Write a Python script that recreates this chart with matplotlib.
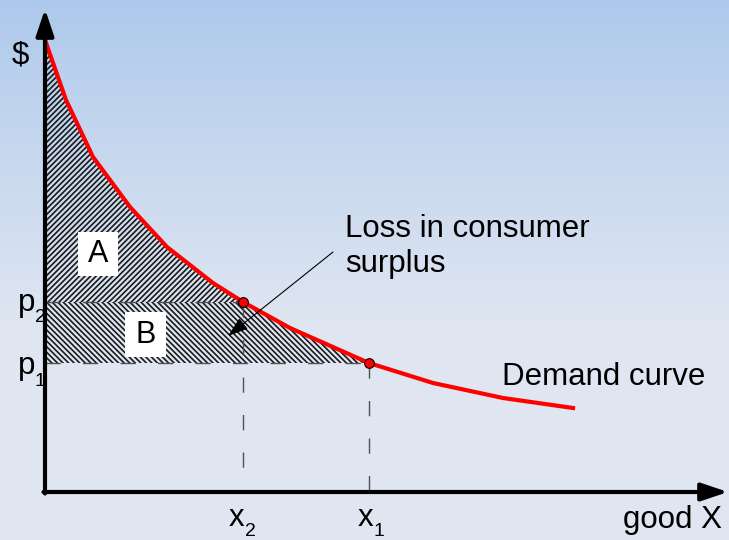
import numpy as np
import matplotlib
matplotlib.use("Agg")
import matplotlib.pyplot as plt
from matplotlib.patches import Rectangle

plt.rcParams['font.family'] = ['Liberation Sans', 'DejaVu Sans']
plt.rcParams['hatch.linewidth'] = 1.2

# ---- data (x: quantity, y: price; origin at the axes corner) ----
curve_x = [0, 21, 48, 85, 122, 168, 198, 245, 324, 388, 458, 528]
curve_y = [452, 392, 335, 285, 245, 209, 190, 164, 129, 109, 94, 84]
x2, p2 = 198, 190
x1, p1 = 324, 129
point_x = [x2, x1]
point_y = [p2, p1]

fig = plt.figure(figsize=(7.29, 5.4), dpi=100)
ax = fig.add_axes([0, 0, 1, 1])
XMIN, XMAX, YMIN, YMAX = -45, 684, -48, 492
ax.set_xlim(XMIN, XMAX)
ax.set_ylim(YMIN, YMAX)
ax.axis('off')

# background gradient
top = np.array([172, 200, 236]) / 255
bot = np.array([223, 230, 241]) / 255
h = 540
t = np.clip(np.arange(h) / 330.0, 0, 1) ** 0.85
grad = top[None, :] * (1 - t[:, None]) + bot[None, :] * t[:, None]
grad = np.repeat(grad[:, None, :], 2, axis=1)
ax.imshow(grad, extent=[XMIN, XMAX, YMIN, YMAX], aspect='auto', zorder=0, origin='upper')

# hatched regions
xs = np.linspace(0, x1, 600)
cy = np.interp(xs, curve_x, curve_y)
maskA = xs <= x2
ax.fill_between(xs[maskA], p2, cy[maskA], facecolor='none', edgecolor='#1a1a1a',
                linewidth=0, hatch='//////', zorder=1)
ax.fill_between(xs, p1, np.minimum(cy, p2), facecolor='none', edgecolor='#1a1a1a',
                linewidth=0, hatch='\\\\\\\\\\\\', zorder=1)

# white label boxes
ax.add_patch(Rectangle((33, 216), 40, 44, facecolor='white', edgecolor='none', zorder=2))
ax.add_patch(Rectangle((80, 135), 41, 45, facecolor='white', edgecolor='none', zorder=2))
ax.text(53, 238, 'A', fontsize=22, ha='center', va='center', zorder=3)
ax.text(100.5, 157, 'B', fontsize=22, ha='center', va='center', zorder=3)

# dashed guide lines
dash = dict(color='#505050', lw=1.0, linestyle=(0, (11, 16)), zorder=3)
ax.plot([0, x2], [p2, p2], **dash)
ax.plot([0, x1], [p1, p1], **dash)
ax.plot([x2, x2], [p2, 0], **dash)
ax.plot([x1, x1], [p1, 0], **dash)

# demand curve
ax.plot(curve_x, curve_y, color='#ff0000', lw=3, solid_joinstyle='round', zorder=4)
ax.plot(point_x, point_y, 'o', ms=7, mfc='#ff0000', mec='black', mew=0.8, zorder=5)

# axes with arrows
ax.annotate('', xy=(0, 483), xytext=(0, -1.5),
            arrowprops=dict(arrowstyle='-|>,head_length=0.8,head_width=0.27',
                            lw=3, color='black', shrinkA=0, shrinkB=0, mutation_scale=20),
            zorder=6)
ax.annotate('', xy=(683, 0), xytext=(-1.5, 0),
            arrowprops=dict(arrowstyle='-|>,head_length=0.8,head_width=0.27',
                            lw=3, color='black', shrinkA=0, shrinkB=0, mutation_scale=20),
            zorder=6)

# annotation arrow
ax.annotate('', xy=(183, 156), xytext=(288, 240),
            arrowprops=dict(arrowstyle='-|>,head_length=0.9,head_width=0.3',
                            lw=0.8, color='black', shrinkA=0, shrinkB=0, mutation_scale=14),
            zorder=6)

fs = 22.5
ax.text(-25, 437, '$', fontsize=fs, ha='center', va='center')
ax.text(-10, 181, 'p', fontsize=fs, ha='right', va='baseline')
ax.text(-10, 170, '2', fontsize=14, ha='left', va='baseline')
ax.text(-10, 118, 'p', fontsize=fs, ha='right', va='baseline')
ax.text(-10, 106, '1', fontsize=14, ha='left', va='baseline')
ax.text(199, -34, 'x', fontsize=fs, ha='right', va='baseline')
ax.text(200, -44, '2', fontsize=14, ha='left', va='baseline')
ax.text(328, -34, 'x', fontsize=fs, ha='right', va='baseline')
ax.text(329, -44, '1', fontsize=14, ha='left', va='baseline')
ax.text(677, -36, 'good X', fontsize=fs, ha='right', va='baseline')
ax.text(300, 255, 'Loss in consumer', fontsize=fs, ha='left', va='baseline')
ax.text(300, 220, 'surplus', fontsize=fs, ha='left', va='baseline')
ax.text(457, 107, 'Demand curve', fontsize=fs, ha='left', va='baseline')

fig.savefig('out.png', dpi=100)
